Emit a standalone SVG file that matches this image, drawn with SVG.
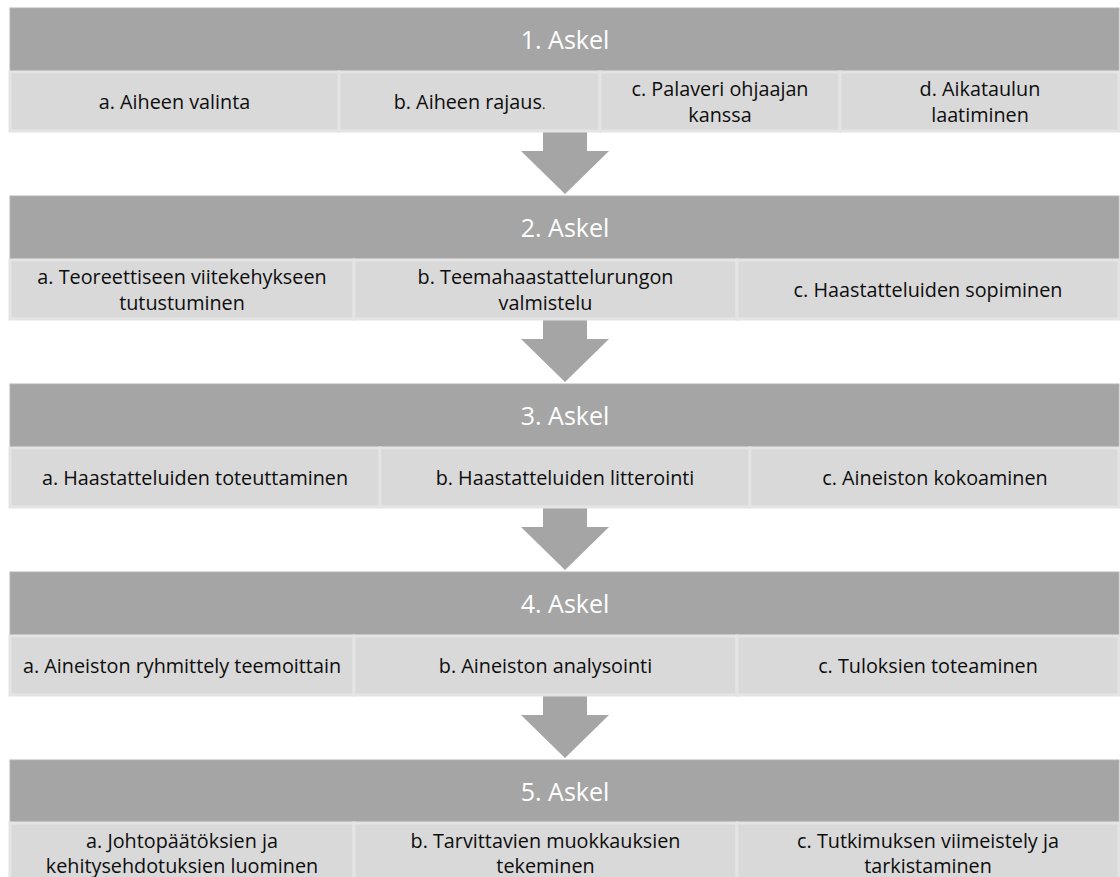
<svg xmlns="http://www.w3.org/2000/svg" width="1120" height="877" viewBox="0 0 1120 877">
<style>
.hdr{fill:#a5a5a5;stroke:#b4b4b4;stroke-width:1}
.cell{fill:#d9d9d9;stroke:#e4e4e4;stroke-width:3}
.ht{font-family:"Open Sans","Liberation Sans",sans-serif;font-size:25px;fill:#ffffff;text-anchor:middle}
.ct{font-family:"Open Sans","Liberation Sans",sans-serif;font-size:19.8px;fill:#0d0d0d;text-anchor:middle}
.arr{fill:#a5a5a5}
</style>
<defs>
<path id="arrow" d="M543,0 H587 V20 H609 L565,63 L521,20 H543 Z"/>
</defs>
<rect width="1120" height="877" fill="#ffffff"/>
<g id="connectors">
<use href="#arrow" class="arr" y="131"/>
<use href="#arrow" class="arr" y="319"/>
<use href="#arrow" class="arr" y="507"/>
<use href="#arrow" class="arr" y="695"/>
</g>
<g id="step1">
<rect class="hdr" x="10" y="8" width="1109" height="64"/>
<text class="ht" x="565" y="49">1. Askel</text>
<g id="step1a"><rect class="cell" x="10" y="72" width="329" height="59"/><text class="ct" x="174.5" y="108.5">a. Aiheen valinta</text></g>
<g id="step1b"><rect class="cell" x="339" y="72" width="261" height="59"/><text class="ct" x="469.5" y="108.5">b. Aiheen rajaus<tspan font-size="13">.</tspan></text></g>
<g id="step1c"><rect class="cell" x="600" y="72" width="240" height="59"/><text class="ct" x="720" y="96">c. Palaveri ohjaajan<tspan x="720" y="121.5">kanssa</tspan></text></g>
<g id="step1d"><rect class="cell" x="840" y="72" width="279" height="59"/><text class="ct" x="980" y="96">d. Aikataulun<tspan x="980" y="121.5">laatiminen</tspan></text></g>
</g>
<g id="step2">
<rect class="hdr" x="10" y="196" width="1109" height="64"/>
<text class="ht" x="565" y="237">2. Askel</text>
<g id="step2a"><rect class="cell" x="10" y="260" width="344" height="59"/><text class="ct" x="182" y="284">a. Teoreettiseen viitekehykseen<tspan x="182" y="309.5">tutustuminen</tspan></text></g>
<g id="step2b"><rect class="cell" x="354" y="260" width="383" height="59"/><text class="ct" x="545.5" y="284">b. Teemahaastattelurungon<tspan x="545.5" y="309.5">valmistelu</tspan></text></g>
<g id="step2c"><rect class="cell" x="737" y="260" width="382" height="59"/><text class="ct" x="928" y="296.5">c. Haastatteluiden sopiminen</text></g>
</g>
<g id="step3">
<rect class="hdr" x="10" y="384" width="1109" height="64"/>
<text class="ht" x="565" y="425">3. Askel</text>
<g id="step3a"><rect class="cell" x="10" y="448" width="370" height="59"/><text class="ct" x="195" y="484.5">a. Haastatteluiden toteuttaminen</text></g>
<g id="step3b"><rect class="cell" x="380" y="448" width="370" height="59"/><text class="ct" x="565" y="484.5">b. Haastatteluiden litterointi</text></g>
<g id="step3c"><rect class="cell" x="750" y="448" width="369" height="59"/><text class="ct" x="935" y="484.5">c. Aineiston kokoaminen</text></g>
</g>
<g id="step4">
<rect class="hdr" x="10" y="572" width="1109" height="64"/>
<text class="ht" x="565" y="613">4. Askel</text>
<g id="step4a"><rect class="cell" x="10" y="636" width="344" height="59"/><text class="ct" x="182" y="672.5">a. Aineiston ryhmittely teemoittain</text></g>
<g id="step4b"><rect class="cell" x="354" y="636" width="383" height="59"/><text class="ct" x="545.5" y="672.5">b. Aineiston analysointi</text></g>
<g id="step4c"><rect class="cell" x="737" y="636" width="382" height="59"/><text class="ct" x="928" y="672.5">c. Tuloksien toteaminen</text></g>
</g>
<g id="step5">
<rect class="hdr" x="10" y="760" width="1109" height="63"/>
<text class="ht" x="565" y="801">5. Askel</text>
<g id="step5a"><rect class="cell" x="10" y="823" width="344" height="59"/><text class="ct" x="182" y="847.5">a. Johtopäätöksien ja<tspan x="182" y="873">kehitysehdotuksien luominen</tspan></text></g>
<g id="step5b"><rect class="cell" x="354" y="823" width="383" height="59"/><text class="ct" x="545.5" y="847.5">b. Tarvittavien muokkauksien<tspan x="545.5" y="873">tekeminen</tspan></text></g>
<g id="step5c"><rect class="cell" x="737" y="823" width="382" height="59"/><text class="ct" x="928" y="847.5">c. Tutkimuksen viimeistely ja<tspan x="928" y="873">tarkistaminen</tspan></text></g>
</g>
</svg>
